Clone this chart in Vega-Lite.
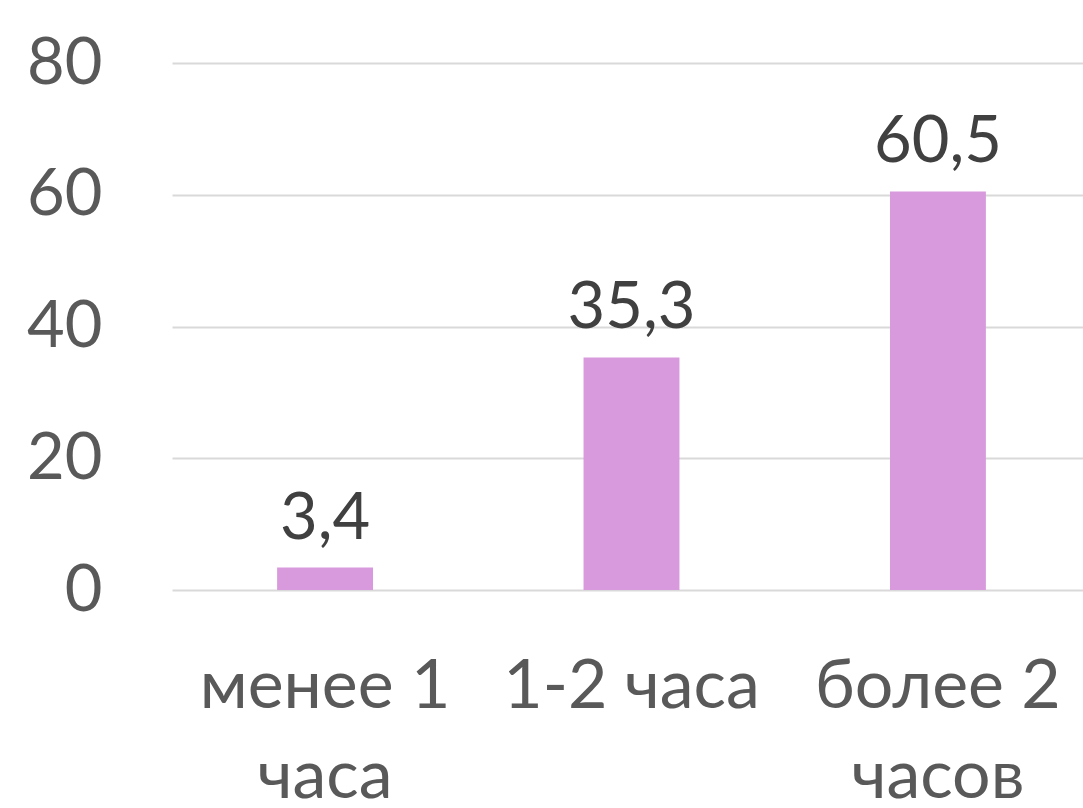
{
  "$schema": "https://vega.github.io/schema/vega-lite/v6.json",
  "autosize": {"type": "none"},
  "padding": {"left": 172, "top": 63, "right": 0, "bottom": 218},
  "width": 919,
  "height": 527,
  "background": "white",
  "config": {"view": {"stroke": null}, "font": "Lato"},
  "data": {"values": [
    {"cat": "менее 1 часа", "value": 3.4, "label": "3,4"},
    {"cat": "1-2 часа", "value": 35.3, "label": "35,3"},
    {"cat": "более 2 часов", "value": 60.5, "label": "60,5"}
  ]},
  "encoding": {
    "x": {"field": "cat", "type": "nominal", "sort": null,
      "scale": {"paddingInner": 0.687, "paddingOuter": 0.343},
      "axis": {"title": null, "domain": false, "ticks": false, "labelAngle": 0,
        "labelFont": "Lato", "labelFontSize": 68, "labelColor": "#595959",
        "labelPadding": 63, "labelLineHeight": 90, "labelBaseline": "top", "labelLimit": 0,
        "labelExpr": "datum.value == 'менее 1 часа' ? ['менее 1', 'часа'] : datum.value == 'более 2 часов' ? ['более 2', 'часов'] : datum.value"}},
    "y": {"field": "value", "type": "quantitative",
      "scale": {"domain": [0, 80]},
      "axis": {"title": null, "domain": false, "ticks": false, "values": [0, 20, 40, 60, 80],
        "labelFont": "Lato", "labelFontSize": 65, "labelColor": "#595959", "labelPadding": 70,
        "gridColor": "#D9D9D9", "gridWidth": 2}}
  },
  "layer": [
    {"mark": {"type": "bar", "color": "#D99ADD"}},
    {"mark": {"type": "text", "font": "Lato", "fontSize": 65, "color": "#404040", "baseline": "alphabetic", "dy": -29},
     "encoding": {"text": {"field": "label"}}}
  ]
}
